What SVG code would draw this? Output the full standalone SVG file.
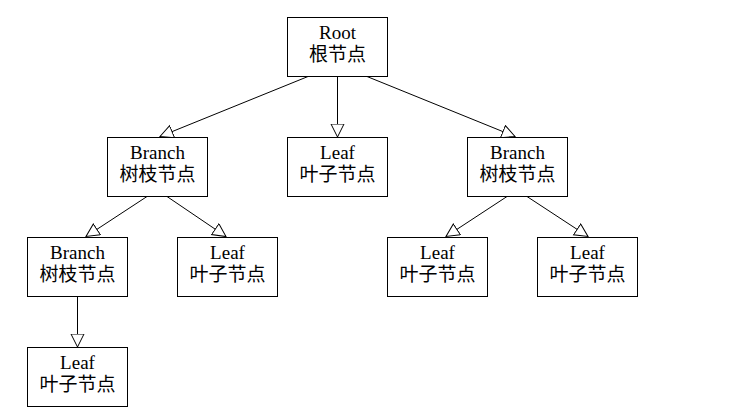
<svg xmlns="http://www.w3.org/2000/svg" width="744" height="419" viewBox="0 0 744 419">
  <style>
    .box { fill: #fff; stroke: #000; stroke-width: 1; }
    .lbl { font-family: "Liberation Serif", "Noto Sans CJK SC", serif; font-size: 19px; fill: #000; text-anchor: middle; }
    .edge { stroke: #000; stroke-width: 1; fill: none; marker-end: url(#tri); }
  </style>
  <defs>
    <!-- hollow triangle head, tip at the child box's top edge -->
    <marker id="tri" markerUnits="userSpaceOnUse" markerWidth="16" markerHeight="16" refX="13.5" refY="7" orient="auto">
      <path d="M0.5,0.5 L13.5,7 L0.5,13.5 Z" fill="#fff" stroke="#000" stroke-width="1"/>
    </marker>
  </defs>
  <rect width="744" height="419" fill="#fff"/>

  <g id="connectors">
    <line class="edge" x1="308" y1="76.5" x2="160" y2="136.5"/>
    <line class="edge" x1="337.5" y1="76.5" x2="337.5" y2="137"/>
    <line class="edge" x1="367" y1="76.5" x2="515" y2="136.5"/>
    <line class="edge" x1="147" y1="196.5" x2="86" y2="236.5"/>
    <line class="edge" x1="167" y1="196.5" x2="226" y2="236.5"/>
    <line class="edge" x1="507" y1="196.5" x2="446" y2="236.5"/>
    <line class="edge" x1="527" y1="196.5" x2="588" y2="236.5"/>
    <line class="edge" x1="77.5" y1="296.5" x2="77.5" y2="347"/>
  </g>

  <g id="root">
    <rect class="box" x="287.5" y="17.5" width="100" height="59"/>
    <text class="lbl" x="337.5" y="39">Root</text>
    <text class="lbl" x="337.5" y="61">根节点</text>
  </g>
  <g id="branch-left">
    <rect class="box" x="107.5" y="137.5" width="100" height="59"/>
    <text class="lbl" x="157.5" y="159">Branch</text>
    <text class="lbl" x="157.5" y="181">树枝节点</text>
  </g>
  <g id="leaf-middle">
    <rect class="box" x="287.5" y="137.5" width="100" height="59"/>
    <text class="lbl" x="337.5" y="159">Leaf</text>
    <text class="lbl" x="337.5" y="181">叶子节点</text>
  </g>
  <g id="branch-right">
    <rect class="box" x="467.5" y="137.5" width="100" height="59"/>
    <text class="lbl" x="517.5" y="159">Branch</text>
    <text class="lbl" x="517.5" y="181">树枝节点</text>
  </g>
  <g id="branch-sub">
    <rect class="box" x="27.5" y="237.5" width="100" height="59"/>
    <text class="lbl" x="77.5" y="259">Branch</text>
    <text class="lbl" x="77.5" y="281">树枝节点</text>
  </g>
  <g id="leaf-a">
    <rect class="box" x="177.5" y="237.5" width="100" height="59"/>
    <text class="lbl" x="227.5" y="259">Leaf</text>
    <text class="lbl" x="227.5" y="281">叶子节点</text>
  </g>
  <g id="leaf-b">
    <rect class="box" x="387.5" y="237.5" width="100" height="59"/>
    <text class="lbl" x="437.5" y="259">Leaf</text>
    <text class="lbl" x="437.5" y="281">叶子节点</text>
  </g>
  <g id="leaf-c">
    <rect class="box" x="537.5" y="237.5" width="100" height="59"/>
    <text class="lbl" x="587.5" y="259">Leaf</text>
    <text class="lbl" x="587.5" y="281">叶子节点</text>
  </g>
  <g id="leaf-d">
    <rect class="box" x="27.5" y="347.5" width="100" height="59"/>
    <text class="lbl" x="77.5" y="369">Leaf</text>
    <text class="lbl" x="77.5" y="391">叶子节点</text>
  </g>
</svg>
